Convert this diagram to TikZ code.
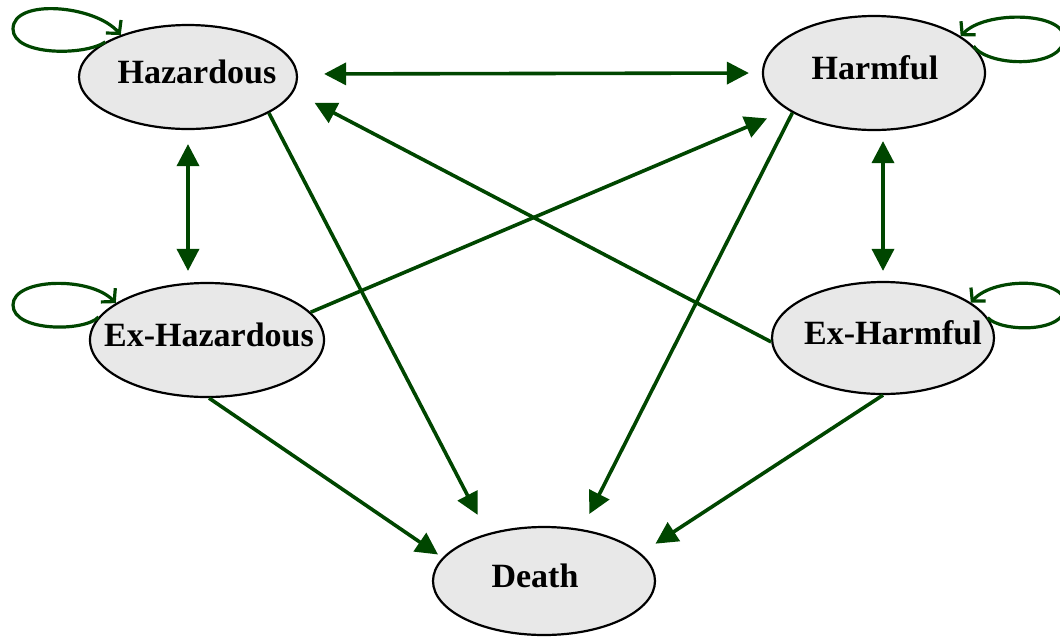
\documentclass[tikz,border=0pt]{standalone}
\usepackage{fontspec}
\setmainfont{Liberation Serif}
\usetikzlibrary{arrows.meta,shapes.geometric}
\definecolor{edgegreen}{RGB}{0,70,0}
\definecolor{nodegray}{RGB}{232,232,232}
\newcommand{\ctext}[2][0pt]{\makebox[0pt]{\hspace*{#1}#2}}
\begin{document}
\begin{tikzpicture}[x=1pt,y=-1pt,
  state/.style={ellipse, draw=black, line width=2.2pt, fill=nodegray, inner sep=0pt,
    text depth=10pt, font=\fontsize{34}{40}\selectfont\bfseries},
  link/.style={draw=edgegreen, line width=3.6pt, -{Triangle[length=22pt,width=22pt]}},
  both/.style={link, {Triangle[length=22pt,width=22pt]}-{Triangle[length=22pt,width=22pt]}},
  selfloop/.style={draw=edgegreen, line width=3.2pt, -{Straight Barb[length=9pt,width=20pt]}}]
\useasboundingbox (0,0) rectangle (1060,638);

\node[state, minimum width=218pt, minimum height=104pt] (haz) at (188,77) {\ctext[18pt]{Hazardous}};
\node[state, minimum width=222pt, minimum height=114pt] (harm) at (874,73) {\ctext[2pt]{Harmful}};
\node[state, minimum width=234pt, minimum height=114pt] (exhaz) at (207,340) {\ctext[4pt]{Ex-Hazardous}};
\node[state, minimum width=222pt, minimum height=112pt] (exharm) at (883,338) {\ctext[20pt]{Ex-Harmful}};
\node[state, minimum width=222pt, minimum height=108pt] (death) at (544,581) {\ctext[-18pt]{Death}};

% two-way connectors
\draw[both, shorten <=26pt, shorten >=13pt] ([yshift=3pt]haz.east) -- (harm.west);
\draw[both, shorten <=14pt, shorten >=11pt] (haz.south) -- (haz.south |- exhaz.north);
\draw[both, shorten <=10pt, shorten >=10pt] (exharm.north |- harm.south) -- (exharm.north);

% one-way connectors
\draw[link, shorten >=21pt] (haz.-24.5) -- (death.140.6);
\draw[link, shorten >=17pt] (harm.206.9) -- (death.54.5);
\draw[link, shorten >=22pt] (exhaz.15.6) -- (harm.203);
\draw[link, shorten >=23.5pt] (exharm.182) -- (haz.-8.3);
\draw[link, shorten >=5.5pt] (exhaz.-88) -- (death.167.8);
\draw[link, shorten >=17.5pt] (exharm.south) -- (death.16.8);

% self loops
\draw[selfloop] (haz.157) .. controls (85,56) and (13,56) .. (13,29)
  .. controls (13,-2) and (95,5) .. (haz.148);
\draw[selfloop] (harm.15) .. controls (990,68) and (1064,68) .. (1064,38)
  .. controls (1064,12) and (985,10) .. (harm.23);
\draw[selfloop] (exhaz.168) .. controls (85,332) and (13,332) .. (13,305)
  .. controls (13,278) and (90,276) .. (exhaz.158);
\draw[selfloop] (exharm.11) .. controls (1000,332) and (1066,334) .. (1066,305)
  .. controls (1066,278) and (995,276) .. (exharm.22);
\end{tikzpicture}
\end{document}
